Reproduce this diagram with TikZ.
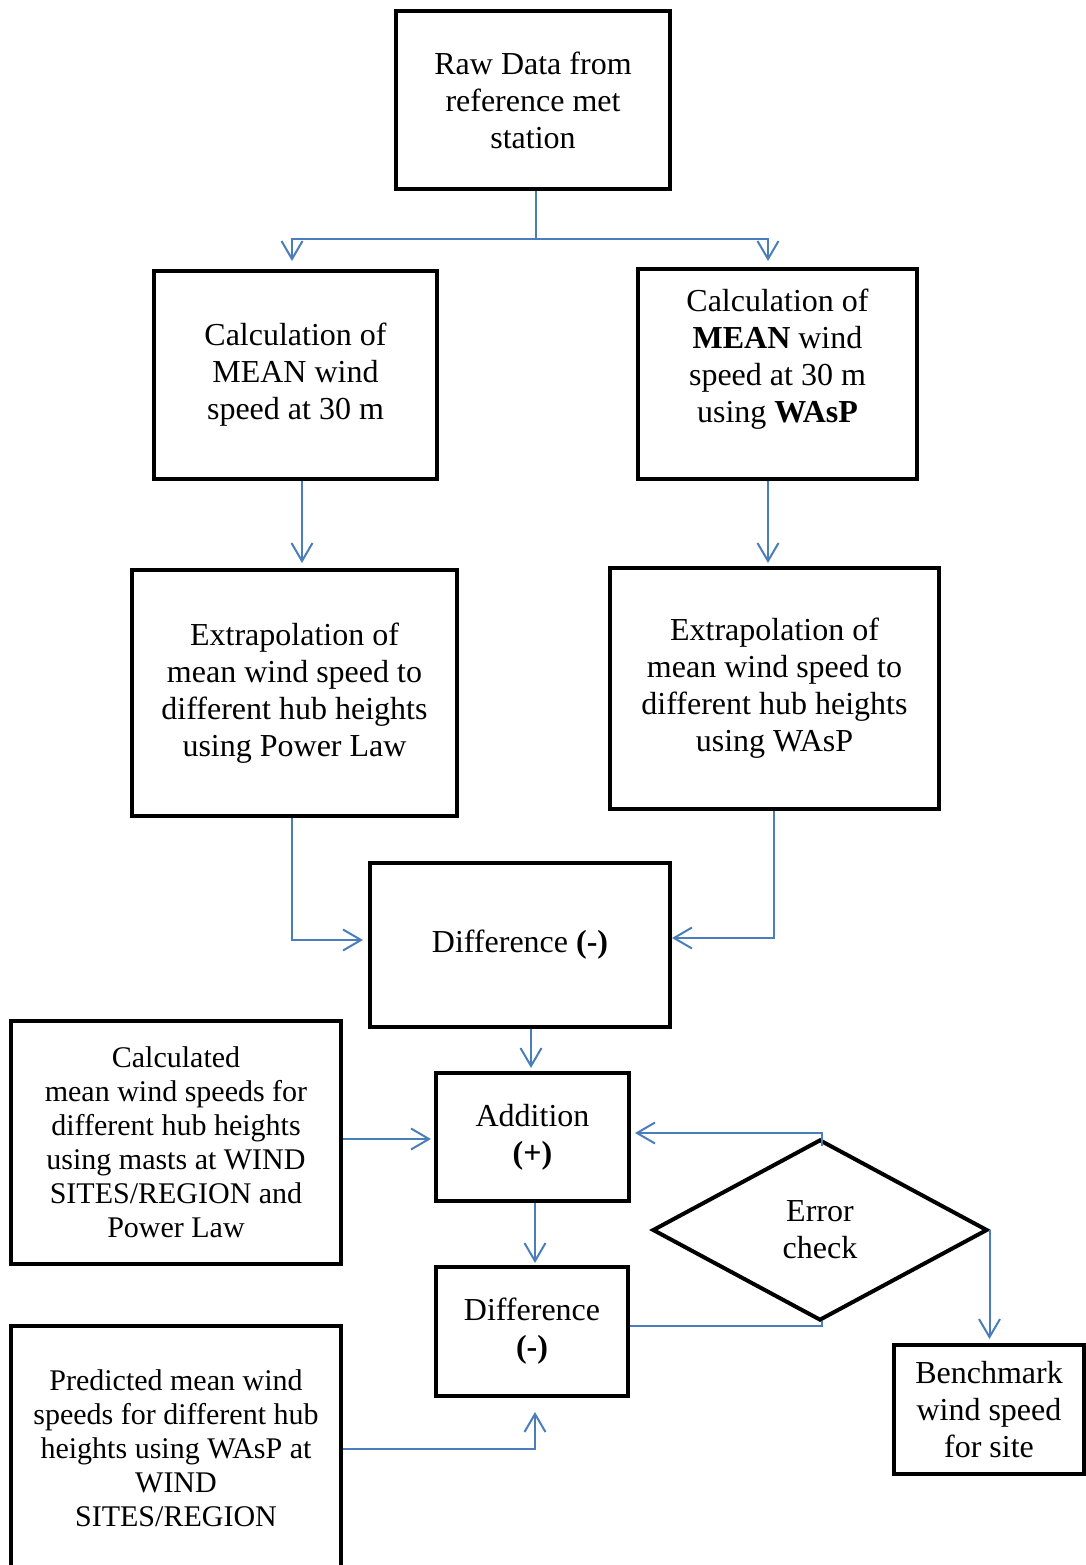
\documentclass[tikz,border=0pt]{standalone}
\usepackage{fontspec}
\setmainfont{Liberation Serif}
\usetikzlibrary{arrows.meta,shapes.geometric,calc}
\definecolor{linkblue}{RGB}{74,126,187}
\begin{document}
\begin{tikzpicture}[x=0.5pt,y=-0.5pt,
  box/.style={draw=black,line width=2pt,align=center,inner sep=0pt,
    font=\fontsize{16}{18.5}\selectfont},
  smallbox/.style={box,font=\fontsize{15}{17}\selectfont},
  conn/.style={draw=linkblue,line width=1pt},
  arr/.style={conn,-{Straight Barb[length=9pt,width=10.5pt]}}]
\useasboundingbox (0,0) rectangle (1086,1565);
\clip (0,0) rectangle (1086,1565);

\node[box,minimum width=137pt,minimum height=89pt] (raw) at (533,100)
  {Raw Data from\\reference met\\station};
\node[box,minimum width=141.5pt,minimum height=104pt] (calcL) at (295.5,375)
  {Calculation of\\MEAN wind\\speed at 30 m};
\node[box,minimum width=139.5pt,minimum height=105pt] (calcR) at (777.5,374)
  {Calculation of\\\textbf{MEAN} wind\\speed at 30 m\\using \textbf{WAsP}\\\mbox{}};
\node[box,minimum width=162.5pt,minimum height=123pt] (extL) at (294.5,693)
  {Extrapolation of\\mean wind speed to\\different hub heights\\using Power Law};
\node[box,minimum width=164.5pt,minimum height=120.5pt] (extR) at (774.5,688.5)
  {Extrapolation of\\mean wind speed to\\different hub heights\\using WAsP};
\node[box,minimum width=150pt,minimum height=82pt] (diff) at (520,945)
  {Difference \textbf{(-)}};
\node[smallbox,minimum width=165pt,minimum height=121.5pt] (calcm) at (176,1142.5)
  {Calculated\\mean wind speeds for\\different hub heights\\using masts at WIND\\SITES/REGION and\\Power Law};
\node[box,minimum width=96.5pt,minimum height=64pt] (add) at (532.5,1137)
  {Addition\\\textbf{(+)}};
\node[box,minimum width=96pt,minimum height=64.5pt] (diff2) at (532,1331.5)
  {Difference\\\textbf{(-)}};
\node[box,shape=diamond,minimum width=167.5pt,minimum height=90.5pt] (err) at (820,1230)
  {Error\\check};
\node[box,minimum width=95pt,minimum height=64.5pt] (bench) at (989,1409.5)
  {Benchmark\\wind speed\\for site};
\node[smallbox,minimum width=165pt,minimum height=122pt] (pred) at (176,1448)
  {Predicted mean wind\\speeds for different hub\\heights using WAsP at\\WIND\\SITES/REGION};

% connectors
\coordinate (split) at ($(raw.south)+(3,48)$);
\draw[conn] ($(raw.south)+(3,0)$) -- (split);
\draw[arr] (split) -| ($(768,0 |- calcR.north)+(0,-6)$);
\draw[arr] (split) -| ($(292,0 |- calcL.north)+(0,-8)$);

\draw[arr] (302,0 |- calcL.south) -- ($(302,0 |- extL.north)+(0,-5)$);
\draw[arr] (768,0 |- calcR.south) -- ($(768,0 |- extR.north)+(0,-3)$);

\draw[arr] (292,0 |- extL.south) |- ($(diff.west)+(-5,-5)$);
\draw[arr] (774,0 |- extR.south) |- ($(diff.east)+(0,-7)$);

\draw[arr] (531,0 |- diff.south) -- ($(531,0 |- add.north)+(0,-3)$);
\draw[arr] (calcm.east |- 0,1139) -- ($(add.west |- 0,1139)+(-3,0)$);
\draw[arr] (535,0 |- add.south) -- ($(535,0 |- diff2.north)+(0,-2)$);

\draw[arr] ($(err.north)+(2,8)$) |- ($(add.east |- 0,1133)+(4,0)$);
\draw[conn] (diff2.east |- 0,1326) -| ($(err.south)+(2,-2)$);
\draw[arr] (err.east) -- ($(err.east |- bench.north)+(0,-4)$);

\draw[arr] (pred.east |- 0,1449) -| ($(535,0 |- diff2.south)+(0,14)$);
\end{tikzpicture}
\end{document}
